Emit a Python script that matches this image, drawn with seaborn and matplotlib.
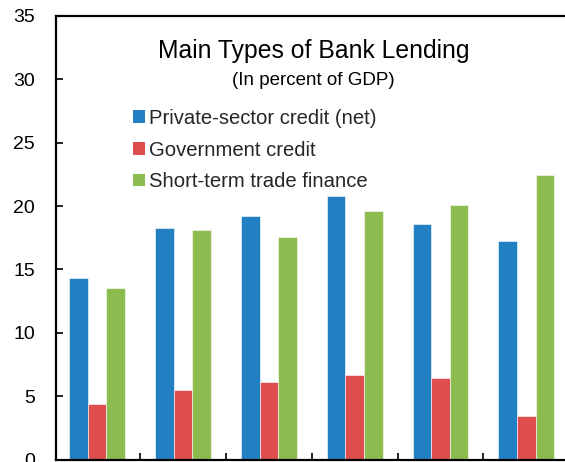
import matplotlib
matplotlib.use("Agg")
import matplotlib.pyplot as plt
import seaborn as sns
import pandas as pd

groups = ["G1", "G2", "G3", "G4", "G5", "G6"]
series = ["Private-sector credit (net)", "Government credit", "Short-term trade finance"]
private_credit = [14.3, 18.3, 19.2, 20.8, 18.6, 17.25]
government_credit = [4.35, 5.5, 6.1, 6.7, 6.4, 3.4]
trade_finance = [13.55, 18.15, 17.55, 19.6, 20.05, 22.45]
y_ticks = [0, 5, 10, 15, 20, 25, 30, 35]
colors = ["#2280C2", "#DE4E4E", "#8CBC50"]

df = pd.DataFrame({
    "group": groups * 3,
    "series": [series[0]] * 6 + [series[1]] * 6 + [series[2]] * 6,
    "value": private_credit + government_credit + trade_finance,
})

sns.set_theme(style="white")
plt.rcParams["font.family"] = ["Liberation Sans", "DejaVu Sans"]

W, H = 565, 462
fig = plt.figure(figsize=(W / 100, H / 100), dpi=100)
left, right, top, bottom = 56, 571, 16, 459.5
ax = fig.add_axes([left / W, (H - bottom) / H, (right - left) / W, (bottom - top) / H])

sns.barplot(data=df, x="group", y="value", hue="series", order=groups,
            hue_order=series, palette=colors, width=0.65, gap=0,
            edgecolor="#ffffff", linewidth=0.4, saturation=1, ax=ax)

ax.set_ylim(0, 35)
ax.set_xlim(-0.48, 5.52)
ax.set_yticks(y_ticks)
ax.set_yticklabels([str(t) for t in y_ticks])
ax.set_xticks([0.5, 1.5, 2.5, 3.5, 4.5])
ax.set_xticklabels([])
ax.set_xlabel("")
ax.set_ylabel("")
ax.tick_params(axis="both", direction="in", length=5, width=1.2, color="black",
               left=True, bottom=True, labelsize=14, labelcolor="black")
ax.tick_params(axis="y", pad=15)
for s in ["left", "bottom", "top", "right"]:
    ax.spines[s].set_visible(True)
    ax.spines[s].set_color("black")
    ax.spines[s].set_linewidth(1.6)

ax.text(0.5, 1 - (51 - top) / (bottom - top), "Main Types of Bank Lending", transform=ax.transAxes,
        ha="center", va="center", fontsize=17.8, color="black")
ax.text(0.5, 1 - (81 - top) / (bottom - top), "(In percent of GDP)", transform=ax.transAxes,
        ha="center", va="center", fontsize=13.5, color="black")

handles, labels = ax.get_legend_handles_labels()
leg = ax.legend(handles, labels, loc="upper left",
                bbox_to_anchor=((133 - left) / (right - left), 1 - (109 - top) / (bottom - top)),
                frameon=False, fontsize=14.6, handlelength=0.6, handleheight=0.6,
                handletextpad=0.2, labelspacing=0.62, borderaxespad=0, borderpad=0)
for h in leg.legend_handles:
    h.set_edgecolor("none")

fig.savefig("out.png", dpi=100)
